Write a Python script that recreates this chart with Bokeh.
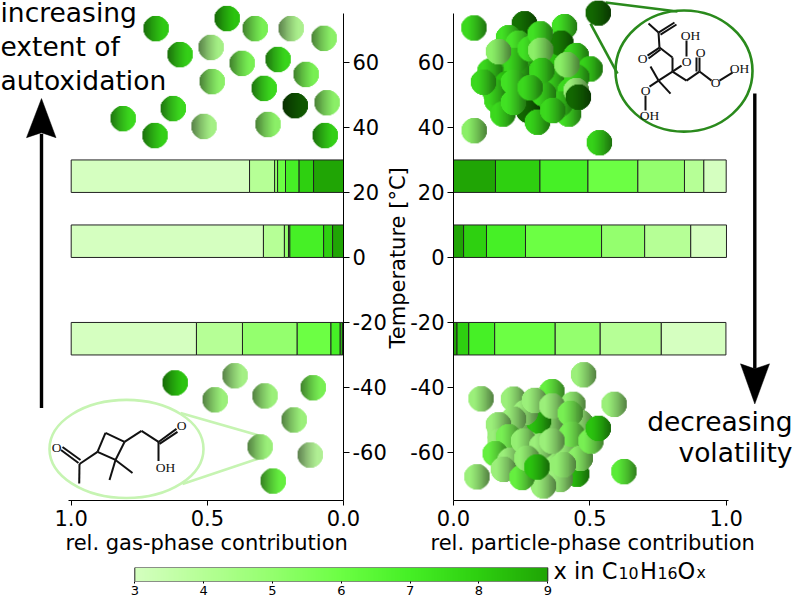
import numpy as np
from bokeh.embed import file_html
from bokeh.resources import INLINE
from bokeh.layouts import row, column
from bokeh.models import Range1d, FixedTicker, LinearColorMapper, Title
from bokeh.plotting import figure
from bokeh.core.properties import value

FONT = "DejaVu Sans"
OX_LEVELS = [3, 4, 5, 6, 7, 8, 9]
TEMP_TICKS = [-60, -40, -20, 0, 20, 40, 60]
TEMP_LABELS = ["-60", "-40", "-20", "0", "20", "40", "60"]
FRAC_TICKS = [0, 0.5, 1]
FRAC_LABELS = ["0.0", "0.5", "1.0"]
BAR_TEMPS = [20, 0, -30]

GAS_BAR_20 = [.655, .092, .011, .029, .050, .053, .110]
GAS_BAR_0 = [.706, .077, .015, .005, .124, .033, .040]
GAS_BAR_M20 = [.460, .169, .201, .124, .034, .008, .004]
PART_BAR_20 = [.082, .071, .171, .183, .176, .163, .154]
PART_BAR_0 = [.131, .169, .158, .279, .143, .084, .037]
PART_BAR_M20 = [.237, .224, .165, .222, .095, .043, .013]

GAS_WARM_X = [.688, .427, .324, .192, .071, .486, .600, .372, .240, .137, .482, .291, .177, .060, .625, .809, .692, .512, .277, .067]
GAS_WARM_T = [70.4, 73.5, 70.4, 70.4, 67.4, 64.6, 62.4, 59.7, 60.9, 56.3, 54.1, 52.0, 46.7, 47.6, 45.8, 42.7, 37.5, 40.3, 40.9, 37.5]
GAS_WARM_OX = [7.8, 8, 5.5, 4, 5, 4.2, 7.6, 5.5, 7.4, 5.5, 5, 7.3, 10.5, 5, 7.3, 7.3, 7.6, 4.2, 5, 7.6]

GAS_COLD_X = [.618, .398, .471, .288, .111, .181, .306, .122, .258]
GAS_COLD_T = [-38.6, -36.4, -43.8, -42.6, -40.1, -50.0, -58.3, -60.8, -68.8]
GAS_COLD_OX = [8, 4.2, 4.5, 4.5, 5.5, 4.5, 4.5, 3.8, 6]

PART_WARM_X = [.075, .260, .407, .531, .076, .535,
               .171, .257, .367, .428, .293, .159, .232, .330, .391, .232,
               .394, .202, .238, .450, .501, .134, .452, .196, .153, .275, .308, .181, .422, .391, .330, .226, .281, .318, .220, .364, .220, .320, .324, .281, .110, .165, .416, .450, .458]
PART_WARM_T = [70.6, 71.9, 71.0, 75.2, 39.0, 35.3,
               59.5, 59.5, 54.4, 51.3, 48.3, 48.3, 49.3, 62.6, 61.6, 57.5,
               65.9, 67.6, 65.9, 62.1, 58.0, 57.3, 55.4, 53.4, 50.8, 45.2, 41.6, 44.1, 44.1, 47.2, 50.3, 60.6, 64.2, 68.8, 53.9, 45.2, 47.7, 63.7, 57.5, 52.2, 53.9, 63.3, 59.3, 51.3, 49.3]
PART_WARM_OX = [7.3, 9.8, 7, 10, 5, 7.5,
                7.3, 7.3, 7.3, 7.3, 8, 7.3, 7.3, 7.3, 8, 7.3,
                9.5, 7, 6.8, 7.3, 7.5, 7.3, 7.3, 8, 7.3, 10, 7.5, 7.3, 7, 7.3, 7.3, 7.3, 7, 7, 7, 7.3, 7, 5, 7.3, 7.3, 7.3, 5, 5, 4.5, 10]

PART_COLD_X = [.101, .220, .477, .589, .086, .625,
               .342, .293, .379, .196, .318, .391, .244, .355, .416, .171, .318, .391,
               .361, .438, .312, .263, .220, .165, .465, .297, .361, .428, .434, .171, .202, .153, .208, .183, .257, .324, .452, .465, .391, .330, .251, .361, .269, .403, .306, .504, .531]
PART_COLD_T = [-43.5, -43.6, -36.1, -45.2, -67.5, -65.9,
               -61.6, -58.5, -61.6, -58.5, -53.4, -52.4, -52.4, -50.3, -58.5, -54.4, -65.7, -64.7,
               -41.3, -45.2, -50.3, -47.7, -49.8, -51.5, -50.8, -44.0, -45.7, -48.0, -54.4, -56.5, -55.2, -60.4, -62.4, -65.2, -56.5, -58.0, -66.7, -61.8, -68.3, -70.3, -67.7, -56.5, -61.8, -63.8, -64.5, -56.5, -52.6]
PART_COLD_OX = [4.5, 4.5, 4.5, 4.5, 4.5, 6.3,
                4.6, 4.6, 4.6, 4.6, 4.6, 4.6, 4.6, 4.6, 4.6, 4.6, 4.6, 4.6,
                6, 4.7, 8, 4.5, 4.5, 4.5, 4.5, 4.5, 4.5, 5.5, 5.5, 4.5, 5.5, 6, 4.5, 4.5, 4.7, 4.5, 8, 5, 4.5, 4.5, 6, 4.5, 4.7, 4.7, 8, 5.5, 8]

# colour scale of x in C10H16Ox
STOP_OX = [3, 4, 5, 6, 7, 8, 9, 10, 11]
STOP_R = [213, 182, 148, 108, 70, 46, 32, 20, 12]
STOP_G = [255, 255, 255, 255, 240, 208, 165, 110, 75]
STOP_B = [192, 150, 110, 68, 38, 16, 5, 2, 0]

def ox_rgb(ox):
    return np.array([np.interp(ox, STOP_OX, STOP_R), np.interp(ox, STOP_OX, STOP_G), np.interp(ox, STOP_OX, STOP_B)])

def ox_hex(ox):
    r, g, b = ox_rgb(ox)
    return "#%02x%02x%02x" % (int(r), int(g), int(b))

def ball(ox, n=52):
    """Round RGBA tile, lit on its left, shaded to the right."""
    t = (np.arange(n) + .5) / n
    xx, yy = np.meshgrid(t, t)
    d = np.hypot(xx - .5, yy - .5) * n
    a = np.clip(n / 2 - d + .5, 0, 1)
    shade = 0.94 - 0.44 * np.clip((xx - .22) / .78, 0, 1) ** 1.2
    base = ox_rgb(ox)
    rgba = np.zeros((n, n, 4), dtype=np.uint8)
    for k in range(3):
        rgba[..., k] = (base[k] * shade).astype(np.uint8)
    rgba[..., 3] = (a * 255).astype(np.uint8)
    return rgba.view(dtype=np.uint32).reshape(n, n)

# scales: page pixel <-> data
Y0, YS = 256.7, 3.247
GX0, GS = 343.0, 272.3
PX0, PS = 453.0, 272.7
def ty(py): return (Y0 - py) / YS
def gx(px): return (GX0 - px) / GS
def rx(px): return (px - PX0) / PS
D_PX = 25.3
TICK_SIZE = "21px"

def style(p):
    p.outline_line_color = None
    p.grid.visible = False
    ya = p.yaxis[0]
    ya.ticker = FixedTicker(ticks=TEMP_TICKS)
    ya.major_label_overrides = dict(zip(TEMP_TICKS, TEMP_LABELS))
    ya.bounds = (-74.8, 75)
    ya.major_tick_in = 0
    ya.major_tick_out = 6
    ya.minor_tick_line_color = None
    ya.major_label_text_font = FONT
    ya.major_label_text_font_size = TICK_SIZE
    ya.major_label_text_color = "black"
    ya.major_label_standoff = 3
    ya.axis_line_color = "black"
    xa = p.xaxis[0]
    xa.ticker = FixedTicker(ticks=FRAC_TICKS)
    xa.major_label_overrides = dict(zip(FRAC_TICKS, FRAC_LABELS))
    xa.bounds = (0, 1.01)
    xa.major_tick_in = 0
    xa.major_tick_out = 5
    xa.minor_tick_line_color = None
    xa.major_label_text_font = FONT
    xa.major_label_text_font_size = TICK_SIZE
    xa.major_label_text_color = "black"
    xa.major_label_standoff = 4
    xa.axis_line_color = "black"

def bars(p, rows, gas):
    levels = OX_LEVELS if gas else OX_LEVELS[::-1]
    for t, fr in zip(BAR_TEMPS, rows):
        fr = np.array(fr if gas else fr[::-1], float)
        right = np.cumsum(fr)
        left = right - fr
        if gas:
            left, right = 1 - left, 1 - right
        p.quad(left=left, right=right, bottom=[t] * 7, top=[t + 10] * 7,
               fill_color=[ox_hex(o) for o in levels], line_color="#222222", line_width=1)

def balls(p, xs, ts, oxs, sx):
    p.image_rgba(image=[ball(o) for o in oxs], x=list(xs), y=list(ts),
                 dw=D_PX / sx, dh=D_PX / YS, anchor="center")

def molecule(p, fx, bonds, lw=2):
    p.multi_line(xs=[[fx(b[0]), fx(b[2])] for b in bonds], ys=[[ty(b[1]), ty(b[3])] for b in bonds],
                 line_color="#111111", line_width=lw)

def mol_text(p, fx, items):
    p.text(x=[fx(i[0]) for i in items], y=[ty(i[1]) for i in items], text=[i[2] for i in items],
           text_font=value("Liberation Serif"), text_font_size="13.5px", text_color="#111111",
           text_align="center", text_baseline="middle")

def title(text, offset, standoff=0):
    return Title(text=text, text_font=FONT, text_font_size="21px", text_font_style="normal",
                 text_color="black", align="left", offset=offset, standoff=standoff)

# ---------- left panel ----------
left = figure(width=389, height=556, x_range=Range1d(GX0 / GS, 0), y_range=Range1d(ty(499.5), ty(0)),
              y_axis_location="right", output_backend="svg", toolbar_location=None, title=None,
              min_border_left=0, min_border_top=0, min_border_right=46, min_border_bottom=56)
style(left)
left.add_layout(title("rel. gas-phase contribution", 65), "below")
bars(left, [GAS_BAR_20, GAS_BAR_0, GAS_BAR_M20], True)

left.ellipse(x=gx(126), y=ty(448), width=154 / GS, height=98 / YS, fill_color=None, line_color="#c6f4b2", line_width=2.6)
left.multi_line(xs=[[gx(180), gx(260)], [gx(182), gx(260)]], ys=[[ty(412), ty(435)], [ty(483), ty(457)]],
                line_color="#c6f4b2", line_width=2.6)
balls(left, GAS_WARM_X, GAS_WARM_T, GAS_WARM_OX, GS)
balls(left, GAS_COLD_X, GAS_COLD_T, GAS_COLD_OX, GS)
GAS_BONDS = [(60.5, 449, 78, 462), (62, 446, 80, 459), (79, 463, 97, 451), (79, 463, 78.7, 482.5),
             (97, 451, 105, 432), (105, 432, 124, 441), (124, 441, 115, 459), (115, 459, 97, 451),
             (115, 459, 109, 479), (115, 459, 132, 472), (124, 441, 141, 430), (141, 430, 158, 441),
             (158, 441, 176, 428), (159, 443, 177, 431), (158, 441, 158, 460)]
molecule(left, gx, GAS_BONDS)
mol_text(left, gx, [(56, 447, "O"), (181, 425, "O"), (165, 467, "OH")])

left.text(x=[gx(0)] * 3, y=[ty(12), ty(46), ty(80)], text=["increasing", "extent of", "autoxidation"],
          text_font=value(FONT), text_font_size="26.5px", text_color="black", text_baseline="middle")
left.segment(x0=gx(41), y0=ty(407), x1=gx(41), y1=ty(133), line_color="black", line_width=3.4)
left.patch(x=[gx(41), gx(55.5), gx(41), gx(26)], y=[ty(98), ty(137), ty(132), ty(137)], fill_color="black", line_color="black", line_width=.5)

# ---------- right panel (canvas slides 8px under the left one's margin) ----------
right = figure(width=412, height=556, x_range=Range1d(0, 340 / PS), y_range=Range1d(ty(499.5), ty(0)),
               y_axis_location="left", output_backend="svg", toolbar_location=None, title=None,
               min_border_left=72, min_border_top=0, min_border_right=0, min_border_bottom=56,
               margin=(0, 0, 0, -8), border_fill_color=None, background_fill_color=None)
style(right)
right.add_layout(title("rel. particle-phase contribution", -23), "below")
right.add_layout(title("Temperature [°C]", 152, standoff=-4), "left")
bars(right, [PART_BAR_20, PART_BAR_0, PART_BAR_M20], False)

CALL_D = "#2a8a1c"
right.ellipse(x=rx(683.5), y=ty(70.5), width=137 / PS, height=121 / YS, fill_color=None, line_color=CALL_D, line_width=2.6)
right.multi_line(xs=[[rx(605), rx(677)], [rx(590), rx(617)]], ys=[[ty(2), ty(11)], [ty(23), ty(73)]],
                 line_color=CALL_D, line_width=2.6)
balls(right, PART_WARM_X, PART_WARM_T, PART_WARM_OX, PS)
balls(right, PART_COLD_X, PART_COLD_T, PART_COLD_OX, PS)
PART_BONDS = [(658, 32, 674, 22), (660, 34, 676, 24), (658, 32, 648, 23), (658, 32, 659, 47),
              (659, 47, 647, 55), (660, 49, 648, 58), (659, 47, 672, 57), (672, 57, 672, 71),
              (672, 71, 658, 80), (672, 71, 686, 80), (672, 71, 681, 65), (686, 56, 686, 40),
              (686, 80, 699, 71), (699, 71, 699, 57), (696, 71, 696, 57), (699, 71, 711, 80),
              (719, 80, 732, 72), (658, 80, 650, 66), (658, 80, 670, 93), (658, 80, 649, 86),
              (645, 95, 645, 110)]
molecule(right, rx, PART_BONDS)
mol_text(right, rx, [(642, 58, "O"), (690, 35, "OH"), (686, 61, "O"), (700, 52, "O"), (715, 82, "O"),
                     (739, 68, "OH"), (645, 90, "O"), (649, 115, "OH")])

right.text(x=[rx(792)] * 2, y=[ty(421), ty(452)], text=["decreasing", "volatility"],
           text_font=value(FONT), text_font_size="26.5px", text_color="black", text_align="right", text_baseline="middle")
right.segment(x0=rx(754.3), y0=ty(93), x1=rx(754.3), y1=ty(368), line_color="black", line_width=3.4)
right.patch(x=[rx(754.3), rx(769), rx(754.3), rx(740)], y=[ty(403), ty(363), ty(368), ty(363)], fill_color="black", line_color="black", line_width=.5)

# ---------- colour bar ----------
CB0, CBS = 134.3, (547.3 - 134.3) / 6
def cx(px): return 3 + (px - CB0) / CBS
bar = figure(width=552, height=42, x_range=Range1d(cx(0), cx(552)), y_range=Range1d(0, 1),
             y_axis_location=None, output_backend="svg", toolbar_location=None, title=None,
             min_border_left=0, min_border_right=0, min_border_top=11, min_border_bottom=17)
bar.outline_line_color = None
bar.grid.visible = False
grad = np.linspace(3, 9, 256).reshape(1, -1)
pal = [ox_hex(o) for o in np.linspace(3, 9, 256)]
bar.image(image=[grad], x=3, y=0, dw=6, dh=1, color_mapper=LinearColorMapper(palette=pal, low=3, high=9))
bar.quad(left=[3], right=[9], bottom=[0], top=[1], fill_color=None, line_color="#222222", line_width=1)
ba = bar.xaxis[0]
ba.ticker = FixedTicker(ticks=OX_LEVELS)
ba.bounds = (3, 9)
ba.major_tick_in = 0
ba.major_tick_out = 2
ba.minor_tick_line_color = None
ba.major_label_text_font = FONT
ba.major_label_text_font_size = "13px"
ba.major_label_text_color = "black"
ba.major_label_standoff = 2
ba.axis_line_color = None

# caption of the colour bar: taller transparent canvas, y counts upward from the page bottom
cap = figure(width=241, height=72, x_range=Range1d(552, 793), y_range=Range1d(0, 72),
             x_axis_location=None, y_axis_location=None, output_backend="svg", toolbar_location=None, title=None,
             min_border_left=0, min_border_right=0, min_border_top=0, min_border_bottom=0,
             margin=(-30, 0, 0, 0), border_fill_color=None, background_fill_color=None)
cap.outline_line_color = None
cap.grid.visible = False
cap.text(x=[553, 639.5, 677], y=[18, 18, 18], text=["x in C", "H", "O"], text_font_size="22.5px",
         text_font=value(FONT), text_color="black", text_baseline="alphabetic")
cap.text(x=[618, 657, 696], y=[14.5, 14.5, 14.5], text=["10", "16", "x"], text_font_size="15.8px",
         text_font=value(FONT), text_color="black", text_baseline="alphabetic")

page = column(row(left, right, spacing=0), row(bar, cap, spacing=0), spacing=0)
open("out.html", "w").write(file_html(page, INLINE))
